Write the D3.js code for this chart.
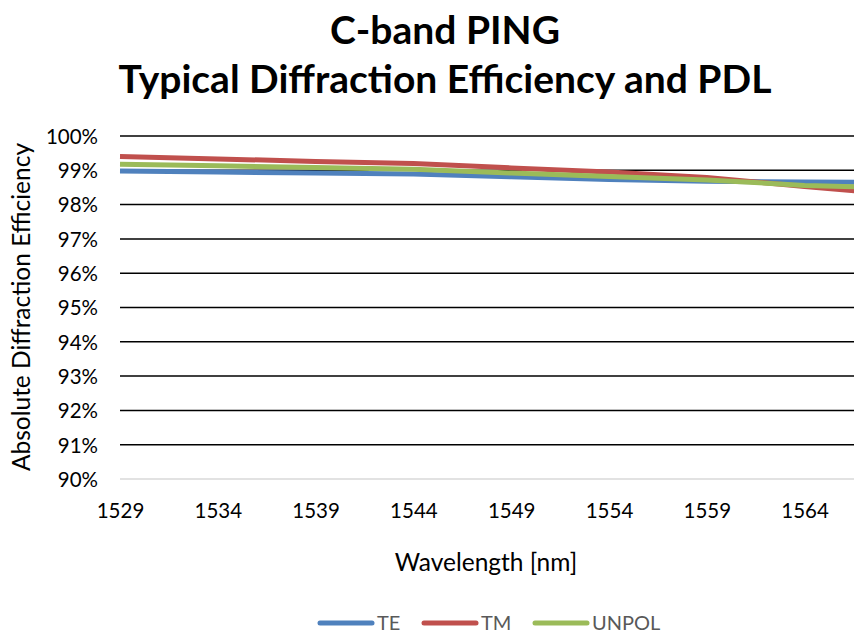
<!DOCTYPE html>
<html><head><meta charset="utf-8">
<script src="https://cdn.jsdelivr.net/npm/d3@7"></script>
<style>body{margin:0;background:#fff}svg{display:block;font-family:Lato,"Open Sans",sans-serif}</style>
</head><body><svg id="c" width="854" height="635"></svg>
<script>
const wavelengths = [1529, 1534, 1539, 1544, 1549, 1554, 1559, 1564, 1567];
const teValues    = [98.98, 98.95, 98.92, 98.89, 98.81, 98.73, 98.68, 98.66, 98.65];
const tmValues    = [99.40, 99.33, 99.26, 99.20, 99.07, 98.95, 98.79, 98.53, 98.38];
const unpolValues = [99.18, 99.13, 99.08, 99.03, 98.92, 98.82, 98.72, 98.56, 98.51];
const seriesNames = ["TE", "TM", "UNPOL"];
const seriesColors = ["#4f81bd", "#c0504d", "#9bbb59"];
const xTickLabels = [1529, 1534, 1539, 1544, 1549, 1554, 1559, 1564];
const yTickValues = [90, 91, 92, 93, 94, 95, 96, 97, 98, 99, 100];
const titleLines = ["C-band PING", "Typical Diffraction Efficiency and PDL"];

const svg = d3.select("#c");
const x = d3.scaleLinear().domain([1529, 1567]).range([120, 120 + 38 * 19.56]);
const y = d3.scaleLinear().domain([90, 100]).range([479, 136]);

// gridlines
const grid = svg.append("g");
grid.selectAll("line").data(yTickValues).join("line")
  .attr("x1", 120).attr("x2", 854)
  .attr("y1", d => y(d)).attr("y2", d => y(d))
  .attr("stroke", d => d === 90 ? "#d9d9d9" : "#000")
  .attr("stroke-width", 1.5);

// y axis labels
const yAxis = d3.axisLeft(y).tickValues(yTickValues).tickFormat(d => d + "%").tickSize(0).tickPadding(0);
const gy = svg.append("g").attr("transform", "translate(98,0)").call(yAxis);
gy.select(".domain").remove();
gy.selectAll("text").attr("font-size", 20.5).attr("fill", "#000").attr("font-family", "Lato").attr("dy", "0.36em");

// x axis labels
const xAxis = d3.axisBottom(x).tickValues(xTickLabels).tickFormat(d3.format("d")).tickSize(0).tickPadding(0);
const gx = svg.append("g").attr("transform", "translate(0,518)").call(xAxis);
gx.select(".domain").remove();
gx.selectAll("text").attr("font-size", 20.5).attr("fill", "#000").attr("font-family", "Lato").attr("dy", 0);

// series
const data = [teValues, tmValues, unpolValues];
const line = d3.line().x((d, i) => x(wavelengths[i])).y(d => y(d));
svg.append("g").selectAll("path").data(data).join("path")
  .attr("d", d => line(d))
  .attr("fill", "none")
  .attr("stroke", (d, i) => seriesColors[i])
  .attr("stroke-width", 5)
  .attr("stroke-linejoin", "round");

// titles
svg.append("g").selectAll("text").data(titleLines).join("text")
  .attr("x", 445).attr("y", (d, i) => 44 + i * 49)
  .attr("text-anchor", "middle").attr("font-weight", "bold")
  .attr("font-size", 39).attr("fill", "#000").text(d => d);

svg.append("text").attr("transform", "translate(30,307) rotate(-90)")
  .attr("text-anchor", "middle").attr("font-size", 24.5).attr("fill", "#000")
  .text("Absolute Diffraction Efficiency");

svg.append("text").attr("x", 486).attr("y", 571)
  .attr("text-anchor", "middle").attr("font-size", 24.5).attr("fill", "#000")
  .text("Wavelength [nm]");

// legend
const legX = [318, 422, 533];
const leg = svg.append("g").selectAll("g").data(seriesNames).join("g")
  .attr("transform", (d, i) => `translate(${legX[i]},623)`);
leg.append("line").attr("x1", 2).attr("x2", 54).attr("y1", 0).attr("y2", 0)
  .attr("stroke", (d, i) => seriesColors[i]).attr("stroke-width", 5).attr("stroke-linecap", "round");
leg.append("text").attr("x", 59).attr("y", 7).attr("font-size", 20).attr("fill", "#595959").text(d => d);
</script></body></html>
